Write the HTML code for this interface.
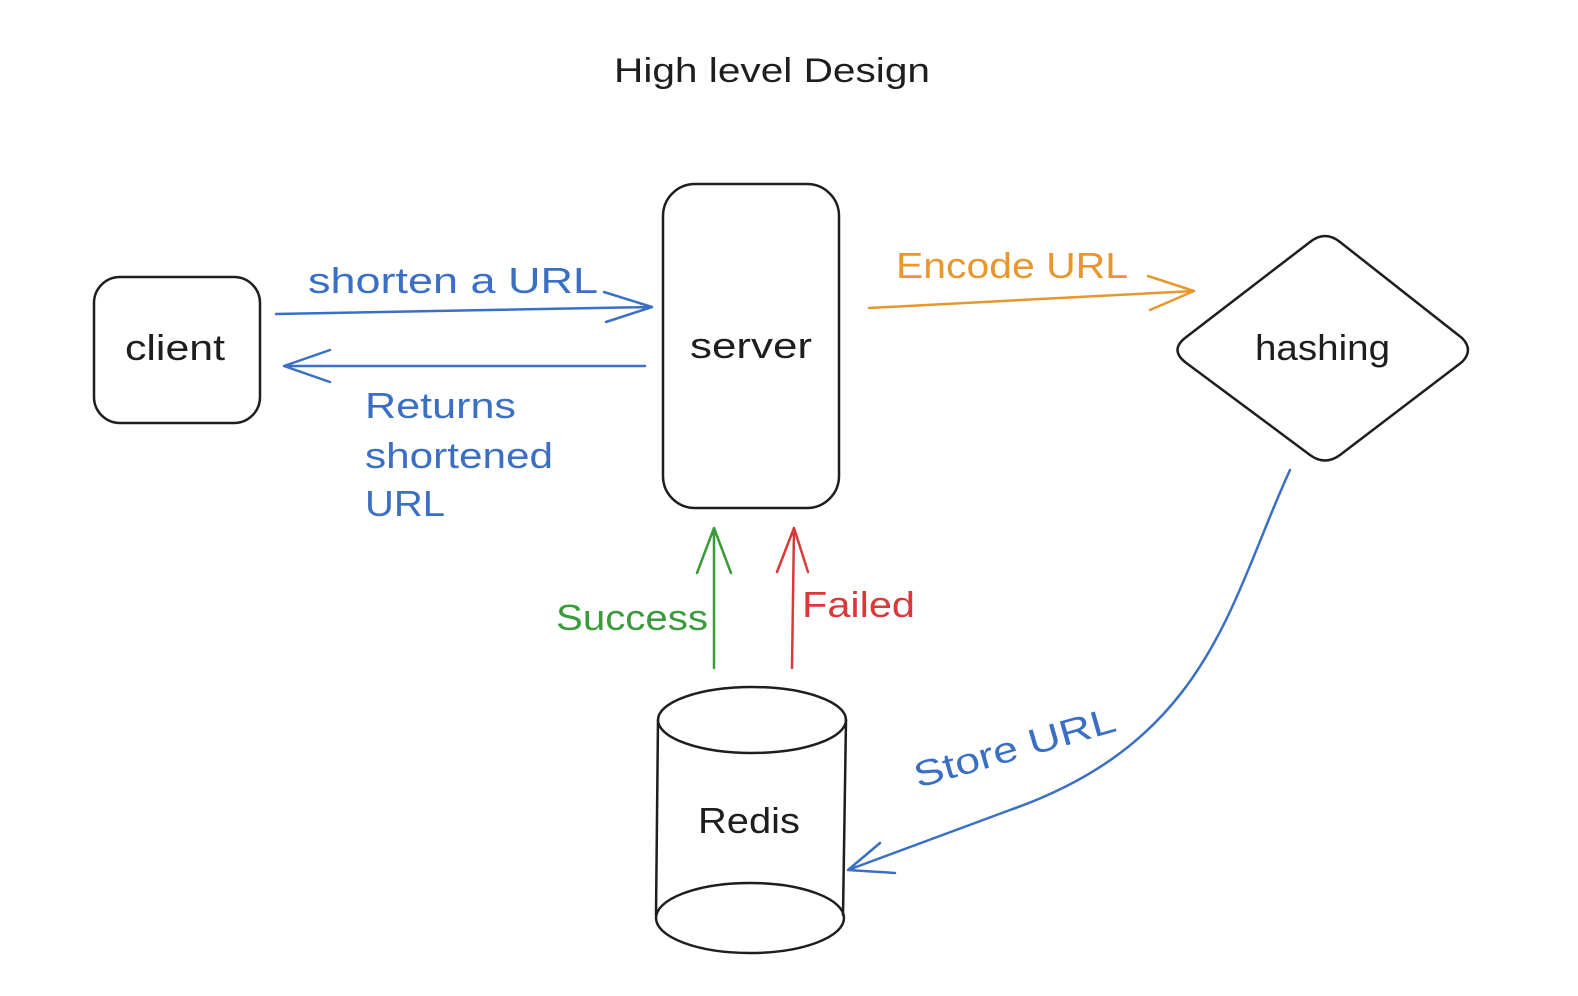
<!DOCTYPE html>
<html><head><style>
body{margin:0;background:#fff;}
svg{display:block}
text{font-family:"Liberation Sans",sans-serif;}
</style></head><body>
<svg width="1578" height="996" viewBox="0 0 1578 996" xmlns="http://www.w3.org/2000/svg">
<g fill="none" stroke-linecap="round" stroke-linejoin="round">
<rect x="94" y="277" width="166" height="146" rx="26" stroke="#1e1e1e" stroke-width="2.5"/>
<rect x="663" y="184" width="176" height="324" rx="32" stroke="#1e1e1e" stroke-width="2.5"/>
<path d="M1310 242 Q1325 230 1340 242 L1462 338 Q1474 350 1462 362 L1340 455 Q1325 466 1310 455 L1185 362 Q1170 350 1185 338 Z" stroke="#1e1e1e" stroke-width="2.5"/>
<ellipse cx="752" cy="720" rx="94" ry="33" stroke="#1e1e1e" stroke-width="2.5"/>
<path d="M658 720 L656 915 M846 720 L843 915" stroke="#1e1e1e" stroke-width="2.5"/>
<ellipse cx="750" cy="918" rx="94" ry="35" stroke="#1e1e1e" stroke-width="2.5"/>
<path d="M276 314 L652 307 M604 292 L652 307 L606 322" stroke="#3a6fc4" stroke-width="2.5"/>
<path d="M645 366 L284 366 M330 350 L284 366 L330 382" stroke="#3a6fc4" stroke-width="2.5"/>
<path d="M869 308 L1194 291 M1148 276 L1194 291 L1150 310" stroke="#e8962e" stroke-width="2.5"/>
<path d="M714 668 L714 528 M697 573 L714 528 L731 573" stroke="#3b9a3b" stroke-width="2.5"/>
<path d="M792 668 L794 528 M777 572 L794 528 L808 572" stroke="#d9393a" stroke-width="2.5"/>
<path d="M1290 470 C1230 600 1210 740 1010 810 L848 870 M880 843 L848 870 L895 873" stroke="#3a6fc4" stroke-width="2.5"/>
</g>
<g font-size="36" lengthAdjust="spacingAndGlyphs">
<text x="614" y="82" fill="#1e1e1e" font-size="34" textLength="316" lengthAdjust="spacingAndGlyphs">High level Design</text>
<text x="125" y="360" fill="#1e1e1e" textLength="100" lengthAdjust="spacingAndGlyphs">client</text>
<text x="690" y="358" fill="#1e1e1e" textLength="122" lengthAdjust="spacingAndGlyphs">server</text>
<text x="1255" y="360" fill="#1e1e1e" textLength="135" lengthAdjust="spacingAndGlyphs">hashing</text>
<text x="698" y="833" fill="#1e1e1e" textLength="102" lengthAdjust="spacingAndGlyphs">Redis</text>
<text x="308" y="293" fill="#3a6fc4" textLength="290" lengthAdjust="spacingAndGlyphs">shorten a URL</text>
<text x="365" y="418" fill="#3a6fc4" textLength="151" lengthAdjust="spacingAndGlyphs">Returns</text>
<text x="365" y="468" fill="#3a6fc4" textLength="188" lengthAdjust="spacingAndGlyphs">shortened</text>
<text x="365" y="516" fill="#3a6fc4" textLength="80" lengthAdjust="spacingAndGlyphs">URL</text>
<text x="896" y="278" fill="#e8962e" textLength="232" lengthAdjust="spacingAndGlyphs">Encode URL</text>
<text x="556" y="630" fill="#3b9a3b" textLength="152" lengthAdjust="spacingAndGlyphs">Success</text>
<text x="802" y="617" fill="#d9393a" textLength="113" lengthAdjust="spacingAndGlyphs">Failed</text>
<text x="918" y="788" fill="#3a6fc4" transform="rotate(-16 918 788)" textLength="208" lengthAdjust="spacingAndGlyphs">Store URL</text>
</g>
</svg>
</body></html>
